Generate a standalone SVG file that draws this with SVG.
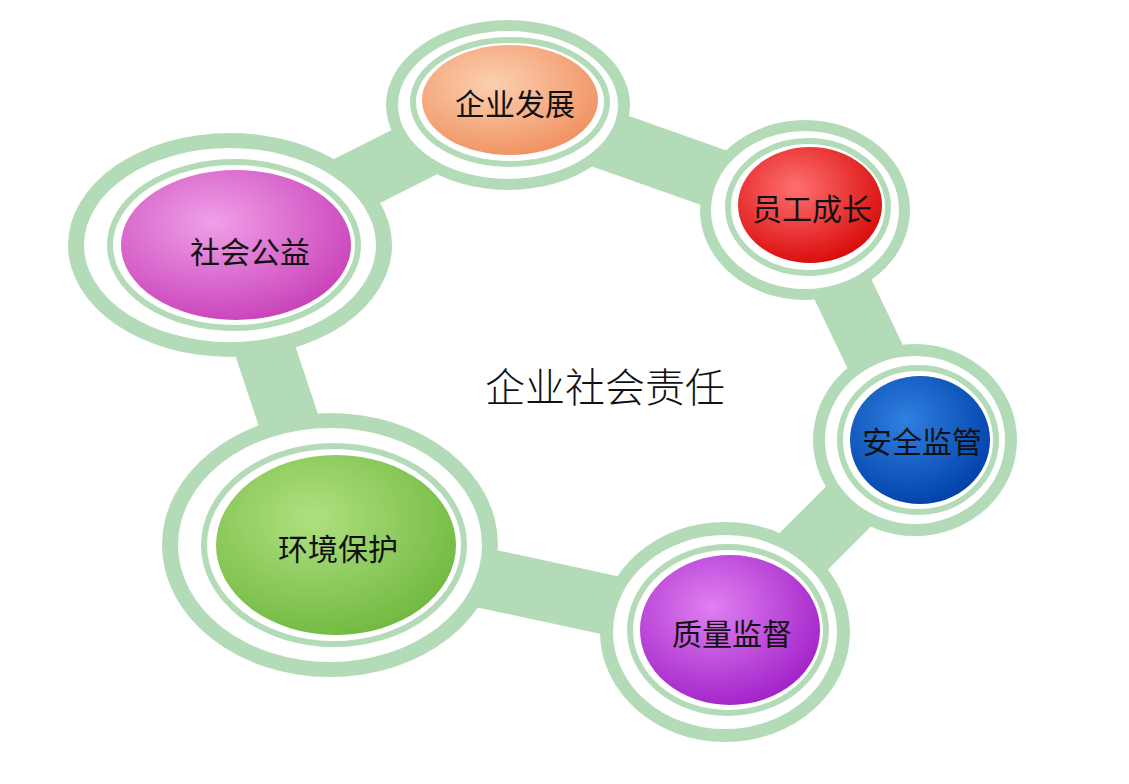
<svg xmlns="http://www.w3.org/2000/svg" width="1129" height="784" viewBox="0 0 1129 784">
<style>
.o{fill:#b3dbb8}.w{fill:#fff}.r{fill:none;stroke:#b3dbb8;stroke-width:6}
text{font-family:"Noto Sans CJK SC","Noto Sans",sans-serif;text-anchor:middle;dominant-baseline:central;fill:#111}
</style>
<defs>
<radialGradient id="g1" cx="40%" cy="35%" r="70%"><stop offset="0" stop-color="#fcd0b0"/><stop offset="1" stop-color="#f09060"/></radialGradient>
<radialGradient id="g2" cx="40%" cy="35%" r="70%"><stop offset="0" stop-color="#ff7070"/><stop offset="1" stop-color="#d80808"/></radialGradient>
<radialGradient id="g3" cx="40%" cy="35%" r="70%"><stop offset="0" stop-color="#3080e0"/><stop offset="1" stop-color="#0040a8"/></radialGradient>
<radialGradient id="g4" cx="40%" cy="35%" r="70%"><stop offset="0" stop-color="#e080f0"/><stop offset="1" stop-color="#a020c8"/></radialGradient>
<radialGradient id="g5" cx="40%" cy="35%" r="70%"><stop offset="0" stop-color="#b0e080"/><stop offset="1" stop-color="#70b840"/></radialGradient>
<radialGradient id="g6" cx="40%" cy="35%" r="70%"><stop offset="0" stop-color="#f0a0e8"/><stop offset="1" stop-color="#c840b8"/></radialGradient>
</defs>
<rect width="1129" height="784" fill="#fff"/>
<g id="connectors">
<path d="M508,105 L805,210 L915,440 L725,630 L330,545 L230,245 Z" fill="none" stroke="#b3dbb8" stroke-width="60" stroke-linejoin="round"/>
</g>
<g id="n1"><ellipse class="o" cx="508" cy="105" rx="122" ry="85"/><ellipse class="w" cx="508" cy="105" rx="110" ry="74"/><ellipse class="r" cx="510" cy="102" rx="97" ry="62"/><ellipse cx="510" cy="100" rx="88" ry="55" fill="url(#g1)"/><text x="515" y="102" font-size="30">企业发展</text></g>
<g id="n2"><ellipse class="o" cx="805" cy="210" rx="105" ry="90"/><ellipse class="w" cx="805" cy="210" rx="94" ry="79"/><ellipse class="r" cx="808" cy="207" rx="80" ry="66"/><ellipse cx="810" cy="205" rx="72" ry="58" fill="url(#g2)"/><text x="812" y="207" font-size="30">员工成长</text></g>
<g id="n3"><ellipse class="o" cx="915" cy="440" rx="102" ry="96"/><ellipse class="w" cx="915" cy="440" rx="90" ry="84"/><ellipse class="r" cx="918" cy="440" rx="78" ry="72"/><ellipse cx="920" cy="440" rx="70" ry="64" fill="url(#g3)"/><text x="922" y="440" font-size="30">安全监管</text></g>
<g id="n4"><ellipse class="o" cx="725" cy="632" rx="125" ry="110"/><ellipse class="w" cx="725" cy="632" rx="112" ry="97"/><ellipse class="r" cx="728" cy="630" rx="98" ry="83"/><ellipse cx="730" cy="630" rx="90" ry="75" fill="url(#g4)"/><text x="732" y="632" font-size="30">质量监督</text></g>
<g id="n5"><ellipse class="o" cx="330" cy="545" rx="168" ry="132"/><ellipse class="w" cx="330" cy="545" rx="152" ry="117"/><ellipse class="r" cx="334" cy="545" rx="130" ry="99"/><ellipse cx="336" cy="545" rx="120" ry="90" fill="url(#g5)"/><text x="338" y="547" font-size="30">环境保护</text></g>
<g id="n6"><ellipse class="o" cx="230" cy="245" rx="162" ry="112"/><ellipse class="w" cx="230" cy="245" rx="146" ry="97"/><ellipse class="r" cx="234" cy="245" rx="124" ry="83"/><ellipse cx="236" cy="245" rx="115" ry="75" fill="url(#g6)"/><text x="250" y="250" font-size="30">社会公益</text></g>
<text x="605" y="385" font-size="40" font-weight="300">企业社会责任</text>
</svg>
